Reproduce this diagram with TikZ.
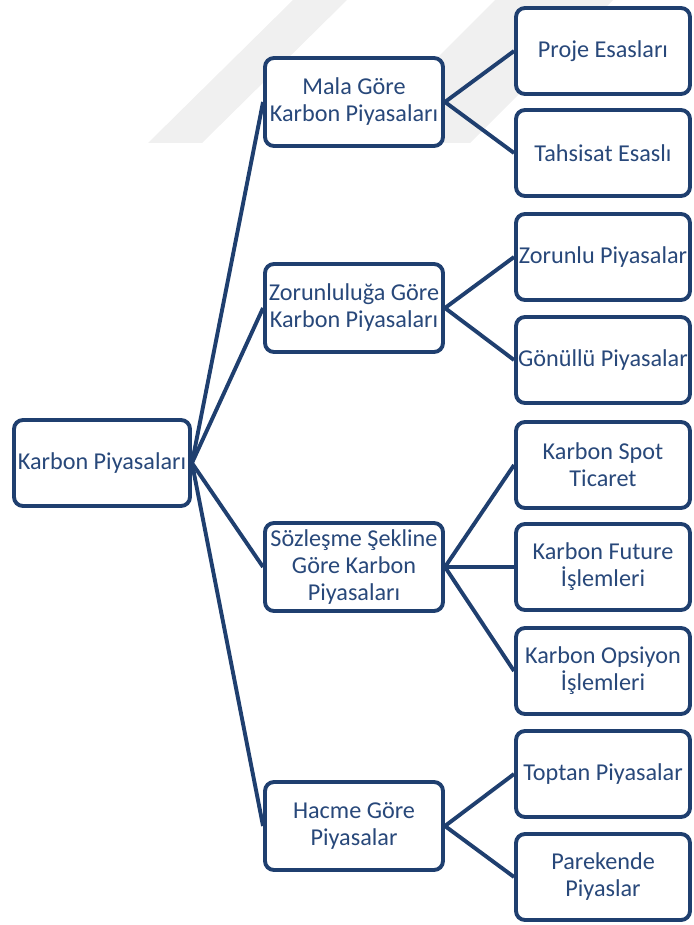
\documentclass[tikz,border=0pt]{standalone}
\usepackage{fontspec}
\setmainfont{Carlito}
\definecolor{kutu}{RGB}{31,63,111}
\definecolor{yazi}{RGB}{40,72,122}

\begin{document}
\begin{tikzpicture}[x=1pt,y=-1pt,
    kutucuk/.style={draw=kutu,line width=3.9pt,rounded corners=9pt,fill=white,text=yazi,align=center,inner sep=1pt,font=\fontsize{24.2}{27}\selectfont},
    kok/.style={kutucuk,minimum width=176pt,minimum height=86pt},
    ana/.style={kutucuk,minimum width=178pt,minimum height=88pt},
    yaprak/.style={kutucuk,minimum width=174pt,minimum height=86pt},
    bag/.style={draw=kutu,line width=3.9pt},
    iz/.style={fill=black!6}]
    \useasboundingbox (0,0) rectangle (693,925);

    \fill[iz] (148,143) -- (202,143) -- (347,0) -- (293,0) -- cycle;
    \fill[iz] (352,143) -- (470,143) -- (613,0) -- (495,0) -- cycle;

    \node[kok] (kok) at (102,463) {Karbon Piyasaları};

    \node[ana] (mala) at (354,102) {Mala Göre\\Karbon Piyasaları};
    \node[ana] (zorun) at (354,308) {Zorunluluğa Göre\\Karbon Piyasaları};
    \node[ana] (sozlesme) at (354,567) {Sözleşme Şekline\\Göre Karbon\\Piyasaları};
    \node[ana] (hacim) at (354,826) {Hacme Göre\\Piyasalar};

    \node[yaprak] (proje) at (603,51) {Proje Esasları};
    \node[yaprak] (tahsis) at (603,153) {Tahsisat Esaslı};

    \node[yaprak] (zorunlu) at (603,257) {Zorunlu Piyasalar};
    \node[yaprak] (gonullu) at (603,360) {Gönüllü Piyasalar};

    \node[yaprak] (spot) at (603,465) {Karbon Spot\\Ticaret};
    \node[yaprak] (future) at (603,567) {Karbon Future\\İşlemleri};
    \node[yaprak] (opsiyon) at (603,671) {Karbon Opsiyon\\İşlemleri};

    \node[yaprak] (toptan) at (603,774) {Toptan Piyasalar};
    \node[yaprak] (perakende) at (603,877) {Parekende\\Piyaslar};

    \foreach \a in {mala,zorun,sozlesme,hacim}
        \draw[bag] (kok.east) -- (\a.west);

    \draw[bag] (mala.east) -- (proje.west);
    \draw[bag] (mala.east) -- (tahsis.west);
    \draw[bag] (zorun.east) -- (zorunlu.west);
    \draw[bag] (zorun.east) -- (gonullu.west);
    \draw[bag] (sozlesme.east) -- (spot.west);
    \draw[bag] (sozlesme.east) -- (future.west);
    \draw[bag] (sozlesme.east) -- (opsiyon.west);
    \draw[bag] (hacim.east) -- (toptan.west);
    \draw[bag] (hacim.east) -- (perakende.west);
\end{tikzpicture}
\end{document}
